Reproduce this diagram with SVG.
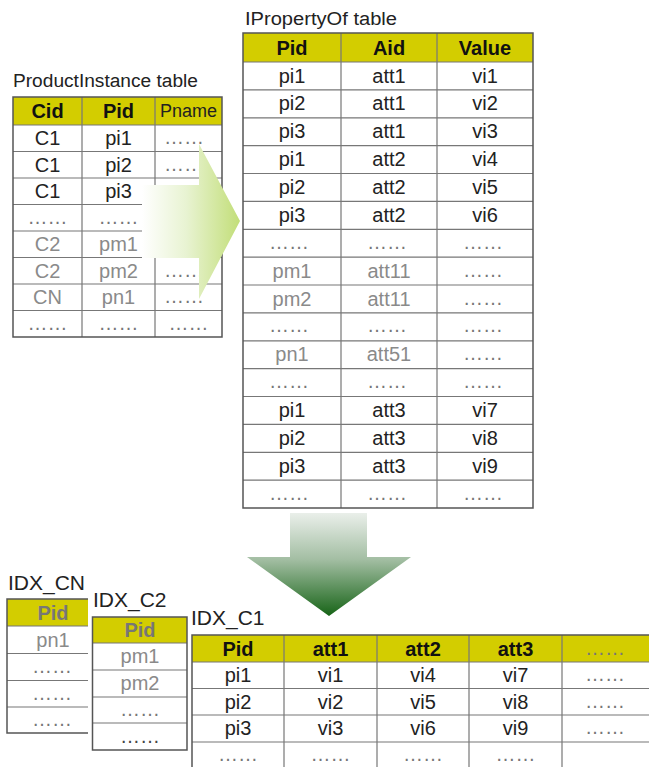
<svg xmlns="http://www.w3.org/2000/svg" width="649" height="767" viewBox="0 0 649 767">
  <defs>
    <linearGradient id="gradRight" gradientUnits="userSpaceOnUse" x1="142" y1="0" x2="240" y2="0">
      <stop offset="0" stop-color="#ffffff"/>
      <stop offset="0.45" stop-color="#e8f3d2"/>
      <stop offset="1" stop-color="#c2de78"/>
    </linearGradient>
    <linearGradient id="gradDown" gradientUnits="userSpaceOnUse" x1="0" y1="513" x2="0" y2="616">
      <stop offset="0" stop-color="#eaefea"/>
      <stop offset="0.45" stop-color="#a3bea3"/>
      <stop offset="1" stop-color="#176417"/>
    </linearGradient>
    <style>
      text { font-family: "Liberation Sans", Arial, sans-serif; font-size: 20px; fill: #222; text-anchor: middle; }
      .title { font-size: 18px; text-anchor: start; fill: #222; }
      .idx { font-size: 21px; text-anchor: start; fill: #222; }
      .hd { font-weight: bold; fill: #111; }
      .hdg { font-weight: bold; fill: #777; }
      .g { fill: #8a8a8a; }
      .dots { fill: #777; font-size: 20px; }
      .bg { fill: #ffffff; }
      .head { fill: #d3cd00; }
      .frame { fill: none; stroke: #555; stroke-width: 1.5; }
      .grid { stroke: #777; stroke-width: 1.2; fill: none; }
    </style>
  </defs>

  <!-- ProductInstance table -->
  <g id="product-instance">
    <text class="title" x="13" y="87" textLength="185" lengthAdjust="spacingAndGlyphs">ProductInstance table</text>
    <rect class="bg" x="13" y="97" width="209" height="240"/>
    <rect class="head" x="13" y="97" width="209" height="28"/>
    <path class="grid" d="M13 125H222M13 151.5H222M13 178H222M13 204.5H222M13 231H222M13 257.5H222M13 284H222M13 310.5H222M82 97V337M155 97V337"/>
    <rect class="frame" x="13" y="97" width="209" height="240"/>
    <text class="hd" x="47.5" y="118">Cid</text>
    <text class="hd" x="118.5" y="118">Pid</text>
    <text x="188.5" y="117" style="font-size:18px">Pname</text>
    <text x="47.5" y="145">C1</text><text x="118.5" y="145">pi1</text><text class="dots" x="184" y="144">……</text>
    <text x="47.5" y="171.5">C1</text><text x="118.5" y="171.5">pi2</text><text class="dots" x="184" y="170.5">……</text>
    <text x="47.5" y="198">C1</text><text x="118.5" y="198">pi3</text>
    <text class="dots" x="47.5" y="223.5">……</text><text class="dots" x="118.5" y="223.5">……</text>
    <text class="g" x="47.5" y="251">C2</text><text class="g" x="118.5" y="251">pm1</text>
    <text class="g" x="47.5" y="277.5">C2</text><text class="g" x="118.5" y="277.5">pm2</text><text class="dots" x="184" y="276.5">……</text>
    <text class="g" x="47.5" y="304">CN</text><text class="g" x="118.5" y="304">pn1</text><text class="dots" x="184" y="303">……</text>
    <text class="dots" x="47.5" y="329.5">……</text><text class="dots" x="118.5" y="329.5">……</text><text class="dots" x="188.5" y="329.5">……</text>
  </g>

  <!-- IPropertyOf table -->
  <g id="iproperty-of">
    <text class="title" x="245" y="25" textLength="152" lengthAdjust="spacingAndGlyphs">IPropertyOf table</text>
    <rect class="bg" x="243" y="33" width="290" height="475"/>
    <rect class="head" x="243" y="33" width="290" height="29"/>
    <path class="grid" d="M243 62H533M243 89.9H533M243 117.8H533M243 145.6H533M243 173.5H533M243 201.4H533M243 229.3H533M243 257.1H533M243 285H533M243 312.9H533M243 340.8H533M243 368.6H533M243 396.5H533M243 424.4H533M243 452.3H533M243 480.1H533M341 33V508M437 33V508"/>
    <rect class="frame" x="243" y="33" width="290" height="475"/>
    <text class="hd" x="292" y="55">Pid</text><text class="hd" x="389" y="55">Aid</text><text class="hd" x="485" y="55">Value</text>
    <text x="292" y="82.5">pi1</text><text x="389" y="82.5">att1</text><text x="485" y="82.5">vi1</text>
    <text x="292" y="110.4">pi2</text><text x="389" y="110.4">att1</text><text x="485" y="110.4">vi2</text>
    <text x="292" y="138.3">pi3</text><text x="389" y="138.3">att1</text><text x="485" y="138.3">vi3</text>
    <text x="292" y="166.1">pi1</text><text x="389" y="166.1">att2</text><text x="485" y="166.1">vi4</text>
    <text x="292" y="194">pi2</text><text x="389" y="194">att2</text><text x="485" y="194">vi5</text>
    <text x="292" y="221.9">pi3</text><text x="389" y="221.9">att2</text><text x="485" y="221.9">vi6</text>
    <text class="dots" x="289" y="248.8">……</text><text class="dots" x="387" y="248.8">……</text><text class="dots" x="483" y="248.8">……</text>
    <text class="g" x="292" y="277.6">pm1</text><text class="g" x="389" y="277.6">att11</text><text class="dots" x="483" y="276.6">……</text>
    <text class="g" x="292" y="305.5">pm2</text><text class="g" x="389" y="305.5">att11</text><text class="dots" x="483" y="304.5">……</text>
    <text class="dots" x="289" y="332.4">……</text><text class="dots" x="387" y="332.4">……</text><text class="dots" x="483" y="332.4">……</text>
    <text class="g" x="292" y="361.3">pn1</text><text class="g" x="389" y="361.3">att51</text><text class="dots" x="483" y="360.3">……</text>
    <text class="dots" x="289" y="388.1">……</text><text class="dots" x="387" y="388.1">……</text><text class="dots" x="483" y="388.1">……</text>
    <text x="292" y="417">pi1</text><text x="389" y="417">att3</text><text x="485" y="417">vi7</text>
    <text x="292" y="444.9">pi2</text><text x="389" y="444.9">att3</text><text x="485" y="444.9">vi8</text>
    <text x="292" y="472.8">pi3</text><text x="389" y="472.8">att3</text><text x="485" y="472.8">vi9</text>
    <text class="dots" x="289" y="499.6">……</text><text class="dots" x="387" y="499.6">……</text><text class="dots" x="483" y="499.6">……</text>
  </g>

  <!-- block arrows -->
  <g id="connectors">
    <polygon points="142,185 199,185 199,144 240,221 199,299 199,258 142,258" fill="url(#gradRight)"/>
    <polygon points="290,513 367,513 367,557 411,557 329,616 247,557 290,557" fill="url(#gradDown)"/>
  </g>

  <!-- IDX_CN index table -->
  <g id="idx-cn">
    <text class="idx" x="8" y="590">IDX_CN</text>
    <rect class="bg" x="7" y="599" width="93" height="134"/>
    <rect class="head" x="7" y="599" width="93" height="27"/>
    <path class="grid" d="M7 626H100M7 653.5H100M7 680.5H100M7 707H100"/>
    <rect class="frame" x="7" y="599" width="93" height="134"/>
    <text class="hdg" x="53" y="620">Pid</text>
    <text class="g" x="53" y="647">pn1</text>
    <text class="dots" x="52" y="673">……</text>
    <text class="dots" x="52" y="700">……</text>
    <text class="dots" x="52" y="726">……</text>
  </g>

  <!-- IDX_C2 index table -->
  <g id="idx-c2">
    <rect class="bg" x="88" y="588" width="102" height="179"/>
    <text class="idx" x="93" y="607">IDX_C2</text>
    <rect class="bg" x="92.5" y="617" width="94.5" height="133"/>
    <rect class="head" x="92.5" y="617" width="94.5" height="26"/>
    <path class="grid" d="M92.5 643H187M92.5 670H187M92.5 697H187M92.5 723H187"/>
    <rect class="frame" x="92.5" y="617" width="94.5" height="133"/>
    <text class="hdg" x="140" y="637">Pid</text>
    <text class="g" x="140" y="663">pm1</text>
    <text class="g" x="140" y="690">pm2</text>
    <text class="dots" x="140" y="716">……</text>
    <text class="dots" x="140" y="743" style="fill:#444">……</text>
  </g>

  <!-- IDX_C1 index table -->
  <g id="idx-c1">
    <text class="idx" x="191" y="625">IDX_C1</text>
    <rect class="bg" x="192" y="635" width="470" height="134"/>
    <rect class="head" x="192" y="635" width="470" height="27"/>
    <path class="grid" d="M192 662H662M192 688.5H662M192 715H662M192 742H662M284 635V769M377 635V769M469 635V769M562 635V769"/>
    <rect class="frame" x="192" y="635" width="470" height="134"/>
    <text class="hd" x="238" y="656">Pid</text><text class="hd" x="330.5" y="656">att1</text><text class="hd" x="423" y="656">att2</text><text class="hd" x="515.5" y="656">att3</text><text class="dots" x="605" y="655">……</text>
    <text x="238" y="682">pi1</text><text x="330.5" y="682">vi1</text><text x="423" y="682">vi4</text><text x="515.5" y="682">vi7</text><text class="dots" x="605" y="681">……</text>
    <text x="238" y="708.5">pi2</text><text x="330.5" y="708.5">vi2</text><text x="423" y="708.5">vi5</text><text x="515.5" y="708.5">vi8</text><text class="dots" x="605" y="707.5">……</text>
    <text x="238" y="735">pi3</text><text x="330.5" y="735">vi3</text><text x="423" y="735">vi6</text><text x="515.5" y="735">vi9</text><text class="dots" x="605" y="734">……</text>
    <text class="dots" x="238" y="761">……</text><text class="dots" x="330.5" y="761">……</text><text class="dots" x="423" y="761">……</text><text class="dots" x="515.5" y="761">……</text>
  </g>
</svg>
